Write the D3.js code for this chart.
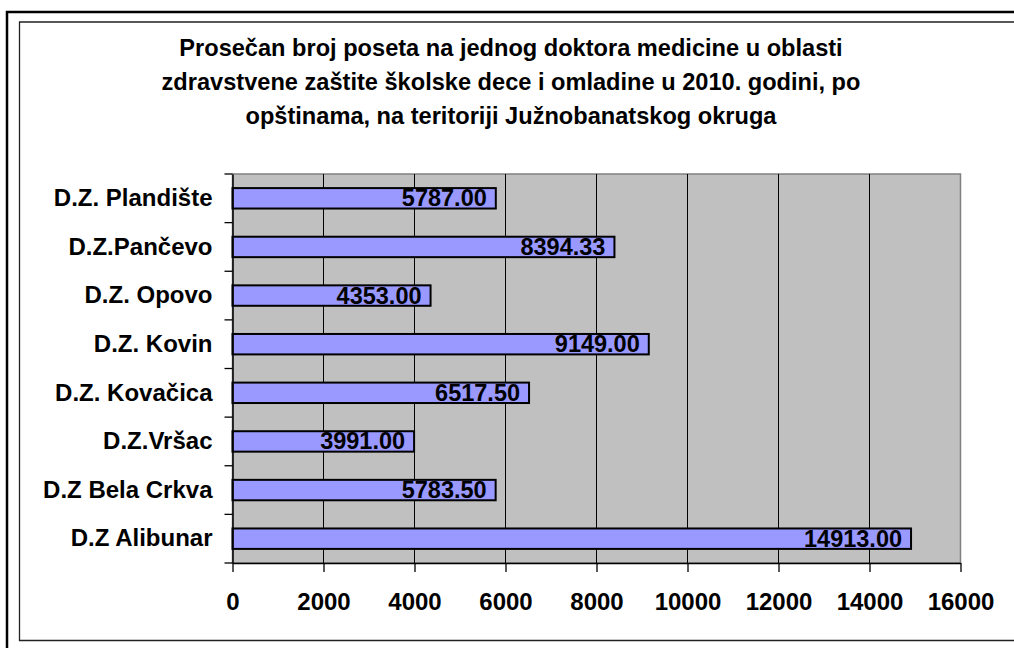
<!DOCTYPE html>
<html>
<head>
<meta charset="utf-8">
<script src="https://cdn.jsdelivr.net/npm/d3@7"></script>
<style>
  body { margin: 0; background: #fff; }
  text { font-family: "Liberation Sans", Arial, sans-serif; font-weight: bold; }
</style>
</head>
<body>
<div id="chart-area"></div>
<script>
// data
const titleLines = [
  "Prosečan broj poseta na jednog doktora medicine u oblasti",
  "zdravstvene zaštite školske dece i omladine u 2010. godini, po",
  "opštinama, na teritoriji Južnobanatskog okruga"
];
const categories = ["D.Z. Plandište", "D.Z.Pančevo", "D.Z. Opovo", "D.Z. Kovin",
                    "D.Z. Kovačica", "D.Z.Vršac", "D.Z Bela Crkva", "D.Z Alibunar"];
const visits = [5787.00, 8394.33, 4353.00, 9149.00, 6517.50, 3991.00, 5783.50, 14913.00];
const xTicks = [0, 2000, 4000, 6000, 8000, 10000, 12000, 14000, 16000];

// layout
const W = 1014, H = 648;
const plot = {LEFT: 232.5, TOP: 174, RIGHT: 960.5, BOTTOM: 563};

let svg = d3.select("#chart-area").append("svg")
            .attr("width", W)
            .attr("height", H);

// frames
const frame = svg.append("g").attr("fill", "none");
frame.append("path")
     .attr("d", `M7,${H + 5} L7,12 L${W + 5},12`)
     .attr("stroke", "#000").attr("stroke-width", 2.5);
frame.append("path")
     .attr("d", `M${W + 5},22 L19.5,22 L19.5,640.5 L${W + 5},640.5`)
     .attr("stroke", "#222").attr("stroke-width", 1.3);

// title
svg.append("g").selectAll("text")
   .data(titleLines)
   .enter().append("text")
   .attr("x", 511)
   .attr("y", (d, i) => 56 + i * 34)
   .attr("text-anchor", "middle")
   .attr("font-size", "23.6px")
   .attr("fill", "#000")
   .text(d => d);

// scales
const x = d3.scaleLinear().domain([0, 16000]).range([plot.LEFT, plot.RIGHT]);
const y = d3.scaleBand().domain(categories).range([plot.TOP, plot.BOTTOM]).padding(0);
const bw = y.bandwidth();

// plot background
svg.append("rect")
   .attr("x", plot.LEFT).attr("y", plot.TOP)
   .attr("width", plot.RIGHT - plot.LEFT).attr("height", plot.BOTTOM - plot.TOP)
   .attr("fill", "#c0c0c0")
   .attr("stroke", "#808080").attr("stroke-width", 1.5);

// gridlines
svg.append("g").selectAll("line")
   .data(xTicks.filter(d => d > 0 && d < 16000))
   .enter().append("line")
   .attr("x1", d => x(d)).attr("x2", d => x(d))
   .attr("y1", plot.TOP).attr("y2", plot.BOTTOM)
   .attr("stroke", "#000").attr("stroke-width", 1);

// bars
svg.append("g").selectAll("rect")
   .data(categories)
   .enter().append("rect")
   .attr("x", x(0))
   .attr("y", d => y(d) + bw * 0.29)
   .attr("width", (d, i) => x(visits[i]) - x(0))
   .attr("height", bw * 0.42)
   .attr("fill", "#9999ff")
   .attr("stroke", "#000")
   .attr("stroke-width", 2);

// value labels
svg.append("g").selectAll("text")
   .data(categories)
   .enter().append("text")
   .attr("x", (d, i) => x(visits[i]) - 9)
   .attr("y", d => y(d) + bw / 2 + 8)
   .attr("text-anchor", "end")
   .attr("font-size", "23.5px")
   .attr("fill", "#000")
   .text((d, i) => d3.format(".2f")(visits[i]));

// x axis
const xAxis = svg.append("g")
   .attr("transform", `translate(0,${plot.BOTTOM})`)
   .call(d3.axisBottom(x).tickValues(xTicks).tickFormat(d3.format("d"))
           .tickSize(9).tickSizeOuter(0).tickPadding(21));
xAxis.select(".domain").attr("stroke", "#000").attr("stroke-width", 1.5);
xAxis.selectAll(".tick line").attr("stroke", "#000").attr("stroke-width", 1.3);
xAxis.selectAll("text")
     .attr("font-size", "24px").attr("font-family", null).attr("fill", "#000");

// y axis: labels at band centers, tick marks at band boundaries
const yAxis = svg.append("g")
   .attr("transform", `translate(${plot.LEFT},0)`)
   .call(d3.axisLeft(y).tickSize(0).tickPadding(20));
yAxis.select(".domain").attr("stroke", "#000").attr("stroke-width", 1.5);
yAxis.selectAll("text")
     .attr("font-size", "24px").attr("font-family", null).attr("fill", "#000");

const bounds = categories.map(c => y(c)).concat([plot.BOTTOM]);
svg.append("g").selectAll("line")
   .data(bounds)
   .enter().append("line")
   .attr("x1", plot.LEFT - 8).attr("x2", plot.LEFT)
   .attr("y1", d => d).attr("y2", d => d)
   .attr("stroke", "#000").attr("stroke-width", 1.3);
</script>
</body>
</html>
